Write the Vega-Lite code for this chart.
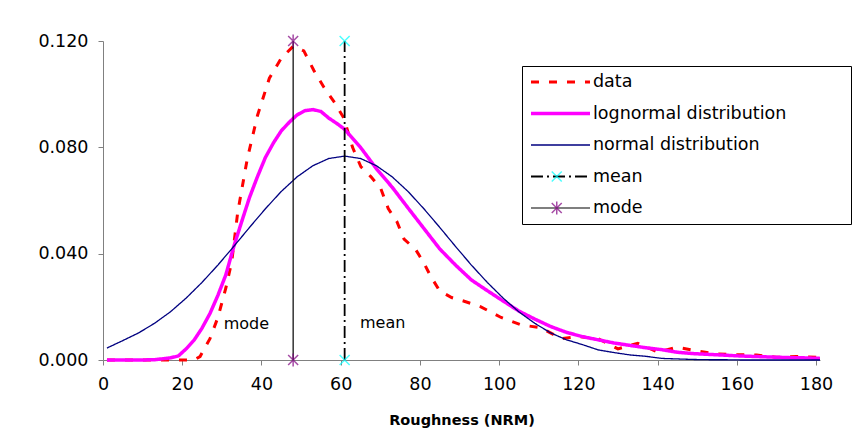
{
  "$schema": "https://vega.github.io/schema/vega-lite/v6.json",
  "width": 717,
  "height": 319,
  "autosize": {"type": "none"},
  "padding": {"left": 103, "top": 41, "right": 34, "bottom": 80},
  "background": "white",
  "config": {
    "view": {"stroke": null},
    "font": "DejaVu Sans"
  },
  "datasets": {
    "curves": [
      {"s": "data", "x": 1, "y": 0}, {"s": "data", "x": 5, "y": 0}, {"s": "data", "x": 10, "y": 0}, {"s": "data", "x": 15, "y": 0}, {"s": "data", "x": 20, "y": 0}, {"s": "data", "x": 23, "y": 0},
      {"s": "data", "x": 24.5, "y": 0.0013}, {"s": "data", "x": 27, "y": 0.008}, {"s": "data", "x": 29, "y": 0.016}, {"s": "data", "x": 31, "y": 0.027}, {"s": "data", "x": 32.5, "y": 0.037},
      {"s": "data", "x": 34, "y": 0.0555}, {"s": "data", "x": 36.4, "y": 0.0755}, {"s": "data", "x": 39, "y": 0.092}, {"s": "data", "x": 42, "y": 0.106}, {"s": "data", "x": 45, "y": 0.1135},
      {"s": "data", "x": 48, "y": 0.118}, {"s": "data", "x": 50.7, "y": 0.1163}, {"s": "data", "x": 53.2, "y": 0.109}, {"s": "data", "x": 55.8, "y": 0.1025}, {"s": "data", "x": 58.5, "y": 0.0968},
      {"s": "data", "x": 60.8, "y": 0.091}, {"s": "data", "x": 63, "y": 0.08}, {"s": "data", "x": 65.1, "y": 0.0727}, {"s": "data", "x": 67.6, "y": 0.069}, {"s": "data", "x": 70.1, "y": 0.0646},
      {"s": "data", "x": 72, "y": 0.057}, {"s": "data", "x": 74.2, "y": 0.052}, {"s": "data", "x": 76, "y": 0.0455}, {"s": "data", "x": 79, "y": 0.0414}, {"s": "data", "x": 81, "y": 0.0365},
      {"s": "data", "x": 82.8, "y": 0.0313}, {"s": "data", "x": 85, "y": 0.026}, {"s": "data", "x": 88, "y": 0.0235}, {"s": "data", "x": 91, "y": 0.0222}, {"s": "data", "x": 95.4, "y": 0.02},
      {"s": "data", "x": 100.5, "y": 0.016}, {"s": "data", "x": 105.6, "y": 0.0132}, {"s": "data", "x": 110.6, "y": 0.0121}, {"s": "data", "x": 115.7, "y": 0.008}, {"s": "data", "x": 120, "y": 0.0088},
      {"s": "data", "x": 125, "y": 0.008}, {"s": "data", "x": 130, "y": 0.0042}, {"s": "data", "x": 135, "y": 0.0063}, {"s": "data", "x": 140, "y": 0.003}, {"s": "data", "x": 145, "y": 0.0048},
      {"s": "data", "x": 150, "y": 0.0034}, {"s": "data", "x": 155, "y": 0.0023}, {"s": "data", "x": 160, "y": 0.002}, {"s": "data", "x": 165, "y": 0.0019}, {"s": "data", "x": 170, "y": 0.001},
      {"s": "data", "x": 175, "y": 0.0013}, {"s": "data", "x": 180, "y": 0.001}, {"s": "data", "x": 181, "y": 0.0008},

      {"s": "lognormal distribution", "x": 1, "y": 0}, {"s": "lognormal distribution", "x": 5, "y": 0}, {"s": "lognormal distribution", "x": 9, "y": 0}, {"s": "lognormal distribution", "x": 13, "y": 0.0001},
      {"s": "lognormal distribution", "x": 17, "y": 0.0008}, {"s": "lognormal distribution", "x": 19, "y": 0.0015}, {"s": "lognormal distribution", "x": 21, "y": 0.0042}, {"s": "lognormal distribution", "x": 23, "y": 0.0075},
      {"s": "lognormal distribution", "x": 25, "y": 0.012}, {"s": "lognormal distribution", "x": 27, "y": 0.0175}, {"s": "lognormal distribution", "x": 29, "y": 0.0243}, {"s": "lognormal distribution", "x": 31, "y": 0.032},
      {"s": "lognormal distribution", "x": 33, "y": 0.0426}, {"s": "lognormal distribution", "x": 35, "y": 0.052}, {"s": "lognormal distribution", "x": 37, "y": 0.0612}, {"s": "lognormal distribution", "x": 39, "y": 0.069},
      {"s": "lognormal distribution", "x": 41, "y": 0.0762}, {"s": "lognormal distribution", "x": 43, "y": 0.0816}, {"s": "lognormal distribution", "x": 45, "y": 0.0862}, {"s": "lognormal distribution", "x": 47, "y": 0.0894},
      {"s": "lognormal distribution", "x": 49, "y": 0.0922}, {"s": "lognormal distribution", "x": 51, "y": 0.0938}, {"s": "lognormal distribution", "x": 53, "y": 0.0942}, {"s": "lognormal distribution", "x": 55, "y": 0.0935},
      {"s": "lognormal distribution", "x": 57, "y": 0.091}, {"s": "lognormal distribution", "x": 59, "y": 0.089}, {"s": "lognormal distribution", "x": 61, "y": 0.0868}, {"s": "lognormal distribution", "x": 65, "y": 0.08},
      {"s": "lognormal distribution", "x": 69, "y": 0.072}, {"s": "lognormal distribution", "x": 73, "y": 0.065}, {"s": "lognormal distribution", "x": 77, "y": 0.0572}, {"s": "lognormal distribution", "x": 81, "y": 0.0495},
      {"s": "lognormal distribution", "x": 85, "y": 0.0418}, {"s": "lognormal distribution", "x": 89, "y": 0.0357}, {"s": "lognormal distribution", "x": 93, "y": 0.0301}, {"s": "lognormal distribution", "x": 97, "y": 0.0261},
      {"s": "lognormal distribution", "x": 101, "y": 0.0222}, {"s": "lognormal distribution", "x": 105, "y": 0.0184}, {"s": "lognormal distribution", "x": 109, "y": 0.0154}, {"s": "lognormal distribution", "x": 113, "y": 0.0126},
      {"s": "lognormal distribution", "x": 117, "y": 0.0104}, {"s": "lognormal distribution", "x": 121, "y": 0.0088}, {"s": "lognormal distribution", "x": 125, "y": 0.0076}, {"s": "lognormal distribution", "x": 129, "y": 0.0064},
      {"s": "lognormal distribution", "x": 133, "y": 0.0055}, {"s": "lognormal distribution", "x": 137, "y": 0.0046}, {"s": "lognormal distribution", "x": 141, "y": 0.0039}, {"s": "lognormal distribution", "x": 145, "y": 0.0029},
      {"s": "lognormal distribution", "x": 149, "y": 0.0024}, {"s": "lognormal distribution", "x": 153, "y": 0.0021}, {"s": "lognormal distribution", "x": 157, "y": 0.0018}, {"s": "lognormal distribution", "x": 161, "y": 0.0015},
      {"s": "lognormal distribution", "x": 165, "y": 0.0013}, {"s": "lognormal distribution", "x": 169, "y": 0.0011}, {"s": "lognormal distribution", "x": 173, "y": 0.0009}, {"s": "lognormal distribution", "x": 177, "y": 0.0008},
      {"s": "lognormal distribution", "x": 181, "y": 0.0006},

      {"s": "normal distribution", "x": 1, "y": 0.0045}, {"s": "normal distribution", "x": 5, "y": 0.0073}, {"s": "normal distribution", "x": 9, "y": 0.0102}, {"s": "normal distribution", "x": 13, "y": 0.0138},
      {"s": "normal distribution", "x": 17, "y": 0.0181}, {"s": "normal distribution", "x": 21, "y": 0.0233}, {"s": "normal distribution", "x": 25, "y": 0.0292}, {"s": "normal distribution", "x": 29, "y": 0.0357},
      {"s": "normal distribution", "x": 33, "y": 0.0427}, {"s": "normal distribution", "x": 37, "y": 0.0499}, {"s": "normal distribution", "x": 41, "y": 0.0569}, {"s": "normal distribution", "x": 45, "y": 0.0634},
      {"s": "normal distribution", "x": 49, "y": 0.0689}, {"s": "normal distribution", "x": 53, "y": 0.0731}, {"s": "normal distribution", "x": 57, "y": 0.0758}, {"s": "normal distribution", "x": 61, "y": 0.0767},
      {"s": "normal distribution", "x": 65, "y": 0.0758}, {"s": "normal distribution", "x": 69, "y": 0.0731}, {"s": "normal distribution", "x": 73, "y": 0.0689}, {"s": "normal distribution", "x": 77, "y": 0.0634},
      {"s": "normal distribution", "x": 81, "y": 0.0569}, {"s": "normal distribution", "x": 85, "y": 0.0499}, {"s": "normal distribution", "x": 89, "y": 0.0427}, {"s": "normal distribution", "x": 93, "y": 0.0357},
      {"s": "normal distribution", "x": 97, "y": 0.0292}, {"s": "normal distribution", "x": 101, "y": 0.0233}, {"s": "normal distribution", "x": 105, "y": 0.0181}, {"s": "normal distribution", "x": 109, "y": 0.0138},
      {"s": "normal distribution", "x": 113, "y": 0.0102}, {"s": "normal distribution", "x": 117, "y": 0.0076}, {"s": "normal distribution", "x": 121, "y": 0.0058}, {"s": "normal distribution", "x": 125, "y": 0.0038},
      {"s": "normal distribution", "x": 129, "y": 0.0028}, {"s": "normal distribution", "x": 133, "y": 0.0019}, {"s": "normal distribution", "x": 137, "y": 0.0014}, {"s": "normal distribution", "x": 141, "y": 0.0006},
      {"s": "normal distribution", "x": 145, "y": 0.0004}, {"s": "normal distribution", "x": 149, "y": 0.0002}, {"s": "normal distribution", "x": 153, "y": 0.0001}, {"s": "normal distribution", "x": 157, "y": 0.0001},
      {"s": "normal distribution", "x": 161, "y": 0}, {"s": "normal distribution", "x": 165, "y": 0}, {"s": "normal distribution", "x": 169, "y": 0}, {"s": "normal distribution", "x": 173, "y": 0},
      {"s": "normal distribution", "x": 177, "y": 0}, {"s": "normal distribution", "x": 181, "y": 0},

      {"s": "mean", "x": 61, "y": 0}, {"s": "mean", "x": 61, "y": 0.12},
      {"s": "mode", "x": 48, "y": 0}, {"s": "mode", "x": 48, "y": 0.12}
    ],
    "markers": [
      {"s": "mean", "x": 61, "y": 0}, {"s": "mean", "x": 61, "y": 0.12},
      {"s": "mode", "x": 48, "y": 0}, {"s": "mode", "x": 48, "y": 0.12}
    ],
    "labels": [
      {"label": "mode", "x": 36.2, "y": 0.0135},
      {"label": "mean", "x": 70.6, "y": 0.014}
    ]
  },
  "encoding": {
    "x": {
      "field": "x", "type": "quantitative",
      "scale": {"domain": [0, 181], "nice": false, "zero": false},
      "axis": {
        "values": [0, 20, 40, 60, 80, 100, 120, 140, 160, 180],
        "title": "Roughness (NRM)",
        "titleFont": "DejaVu Sans", "titleFontSize": 14.5, "titleFontWeight": "bold", "titleColor": "#000", "titlePadding": 21,
        "labelFont": "DejaVu Sans", "labelFontSize": 17.5, "labelColor": "#000", "labelPadding": 10, "labelFlush": false,
        "tickSize": 5, "tickColor": "#808080", "domainColor": "#808080", "grid": false
      }
    },
    "y": {
      "field": "y", "type": "quantitative",
      "scale": {"domain": [0, 0.12], "nice": false},
      "axis": {
        "values": [0, 0.04, 0.08, 0.12], "format": ".3f", "title": null,
        "labelFont": "DejaVu Sans", "labelFontSize": 17.5, "labelColor": "#000", "labelPadding": 10,
        "tickSize": 5, "tickColor": "#808080", "domainColor": "#808080", "grid": false
      }
    }
  },
  "layer": [
    {
      "data": {"name": "curves"},
      "mark": {"type": "line", "strokeCap": "butt"},
      "encoding": {
        "color": {
          "field": "s", "type": "nominal",
          "scale": {"domain": ["data", "lognormal distribution", "normal distribution", "mean", "mode"], "range": ["#FF0000", "#FF00FF", "#000080", "#000000", "#000000"]},
          "legend": {
            "orient": "none", "legendX": 419, "legendY": 25, "title": null,
            "symbolType": "stroke", "symbolSize": 3481, "clipHeight": 18,
            "labelFont": "DejaVu Sans", "labelFontSize": 17.5, "labelColor": "#000", "labelOffset": 1, "labelLimit": 400,
            "rowPadding": 13.5, "padding": 7,
            "fillColor": "#fff", "cornerRadius": 0
          }
        },
        "strokeDash": {
          "field": "s", "type": "nominal",
          "scale": {"domain": ["data", "lognormal distribution", "normal distribution", "mean", "mode"], "range": [[8, 10], [1, 0], [1, 0], [12, 4, 2, 4], [1, 0]]},
          "legend": {"orient": "none", "legendX": 419, "legendY": 25, "title": null}
        },
        "strokeWidth": {
          "field": "s", "type": "nominal",
          "scale": {"type": "ordinal", "domain": ["data", "lognormal distribution", "normal distribution", "mean", "mode"], "range": [3, 3.5, 1.3, 1.8, 1.2]},
          "legend": {"orient": "none", "legendX": 419, "legendY": 25, "title": null}
        }
      }
    },
    {
      "data": {"name": "markers"},
      "mark": {"type": "point", "filled": false, "size": 100, "strokeWidth": 1.5},
      "encoding": {
        "stroke": {
          "field": "s", "type": "nominal",
          "scale": {"domain": ["_1", "_2", "_3", "mean", "mode"], "range": ["transparent", "transparent", "transparent", "#00FFFF", "#800080"]},
          "legend": {
            "orient": "none", "legendX": 419, "legendY": 25, "title": null,
            "symbolSize": 100, "symbolStrokeWidth": 1.5, "symbolOffset": 19, "clipHeight": 18,
            "labelFont": "DejaVu Sans", "labelFontSize": 17.5, "labelExpr": "''", "labelOffset": 278,
            "rowPadding": 13.5, "padding": 7,
            "strokeColor": "#000", "cornerRadius": 0
          }
        },
        "shape": {
          "field": "s", "type": "nominal",
          "scale": {"domain": ["_1", "_2", "_3", "mean", "mode"], "range": ["circle", "circle", "circle", "M-1,-1L1,1M-1,1L1,-1", "M-1,-1L1,1M-1,1L1,-1M0,-1.3L0,1.3"]},
          "legend": {"orient": "none", "legendX": 419, "legendY": 25, "title": null}
        }
      }
    },
    {
      "data": {"name": "labels"},
      "mark": {"type": "text", "font": "DejaVu Sans", "fontSize": 16, "color": "#000", "align": "center", "baseline": "middle"},
      "encoding": {
        "text": {"field": "label"}
      }
    }
  ]
}
